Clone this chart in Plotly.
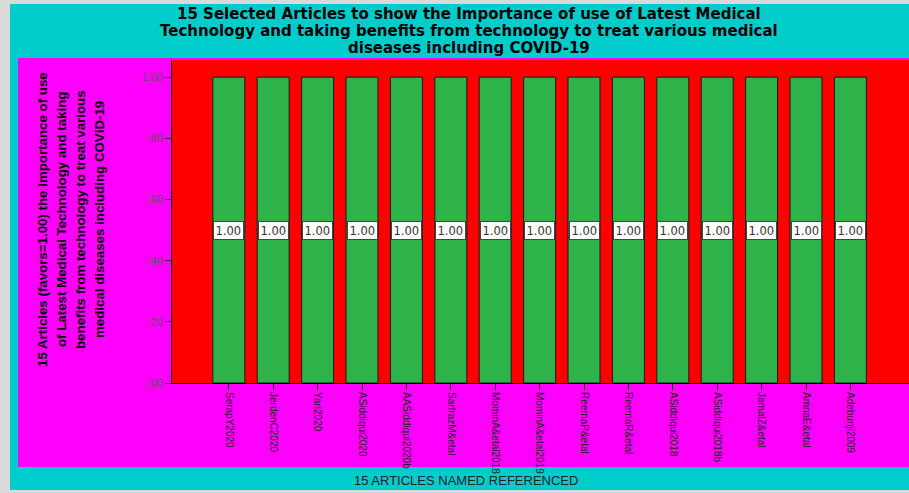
import plotly.graph_objects as go

# ---- data ----
articles = ["SerapY2020", "JerdenC2020", "Yari2020", "ASiddiqui2020", "AASiddiqui2020b",
            "SarfrazM&etal", "MominA&etal2018", "MominA&etal2019", "ReemaP&etal", "ReemaR&etal",
            "ASiddiqui2018", "ASiddiqui2018b", "JamalZ&etal", "AmnaE&etal", "Adebunji2009"]
values = [1.00] * 15
y_tickvals = [0.0, 0.2, 0.4, 0.6, 0.8, 1.0]
y_ticktext = [".00", ".20", ".40", ".60", ".80", "1.00"]

title_lines = ["15 Selected Articles to show the Importance of use of Latest Medical",
               "Technology and taking benefits from technology to treat various medical",
               "diseases including COVID-19"]
ytitle_lines = ["15 Articles (favors=1.00) the Importance of use",
                "of Latest Medical Technology and taking",
                "benefits from technology to treat various",
                "medical diseases including COVID-19"]
xtitle_text = "15 ARTICLES NAMED REFERENCED"

# ---- layout geometry (pixels) ----
W, H = 909, 493
L, R, T, B = 172, 0, 60, 110
pw, ph = W - L - R, H - T - B


def px(xp):
    return (xp - L) / pw


def py(yp):
    return (H - B - yp) / ph


fig = go.Figure()
fig.add_trace(go.Bar(
    x=articles, y=values, width=0.72,
    marker=dict(color="#2DB34A", line=dict(color="#1a1a1a", width=1)),
    hoverinfo="x+y",
))

shapes = [
    dict(type="rect", xref="paper", yref="paper", x0=px(10), x1=px(W + 5), y0=py(490), y1=py(4),
         fillcolor="#00CCCC", line=dict(width=0), layer="below"),
    dict(type="rect", xref="paper", yref="paper", x0=px(18), x1=px(W + 5), y0=py(467), y1=py(58),
         fillcolor="#FF00FF", line=dict(width=0), layer="below"),
    dict(type="rect", xref="paper", yref="paper", x0=0, x1=px(W + 5), y0=0, y1=1,
         fillcolor="#FF0000", line=dict(width=0), layer="below"),
]

annotations = []
for a, v in zip(articles, values):
    annotations.append(dict(
        x=a, y=v / 2, xref="x", yref="y", text=f"{v:.2f}", showarrow=False,
        font=dict(family="DejaVu Sans", size=11.5, color="#333333"),
        bgcolor="white", bordercolor="#444444", borderwidth=1, borderpad=1.5,
    ))

for line, xpix in zip(ytitle_lines, [43, 62, 81, 100]):
    annotations.append(dict(
        x=px(xpix), y=py(220), xref="paper", yref="paper",
        text="<b>" + line + "</b>", showarrow=False,
        textangle=-90, xanchor="center", yanchor="middle",
        font=dict(family="Liberation Sans, Arial", size=13.3, color="black"),
    ))
annotations.append(dict(
    x=px(466), y=py(480), xref="paper", yref="paper", text=xtitle_text, showarrow=False,
    xanchor="center", yanchor="middle",
    font=dict(family="Liberation Sans, Arial", size=13, color="#222222"),
))
for line, ypix in zip(title_lines, [14.5, 31, 47.5]):
    annotations.append(dict(
        x=px(469), y=py(ypix), xref="paper", yref="paper", text="<b>" + line + "</b>",
        showarrow=False, xanchor="center", yanchor="middle",
        font=dict(family="DejaVu Sans", size=15, color="black"),
    ))

fig.update_layout(
    width=W, height=H,
    margin=dict(l=L, r=R, t=T, b=B, pad=0),
    paper_bgcolor="#D9D9D9",
    plot_bgcolor="rgba(0,0,0,0)",
    shapes=shapes, annotations=annotations,
    showlegend=False,
    xaxis=dict(
        range=[-1.28, 15.32], tickangle=90, ticks="outside", ticklen=6, tickcolor="black",
        showline=True, linecolor="black", linewidth=1, showgrid=False, zeroline=False,
        tickfont=dict(family="Liberation Sans Narrow, Arial Narrow, Liberation Sans", size=10, color="#222222"),
    ),
    yaxis=dict(
        range=[0, 1.056], tickvals=y_tickvals, ticktext=y_ticktext,
        ticks="outside", ticklen=6, tickcolor="#333333",
        showline=True, linecolor="black", linewidth=1, showgrid=False, zeroline=False,
        tickfont=dict(family="Liberation Sans, Arial", size=11, color="#555555"),
    ),
)

fig.write_html("out.html", config={"displayModeBar": False},
               post_script="document.body.style.margin='0';document.body.style.overflow='hidden';")
